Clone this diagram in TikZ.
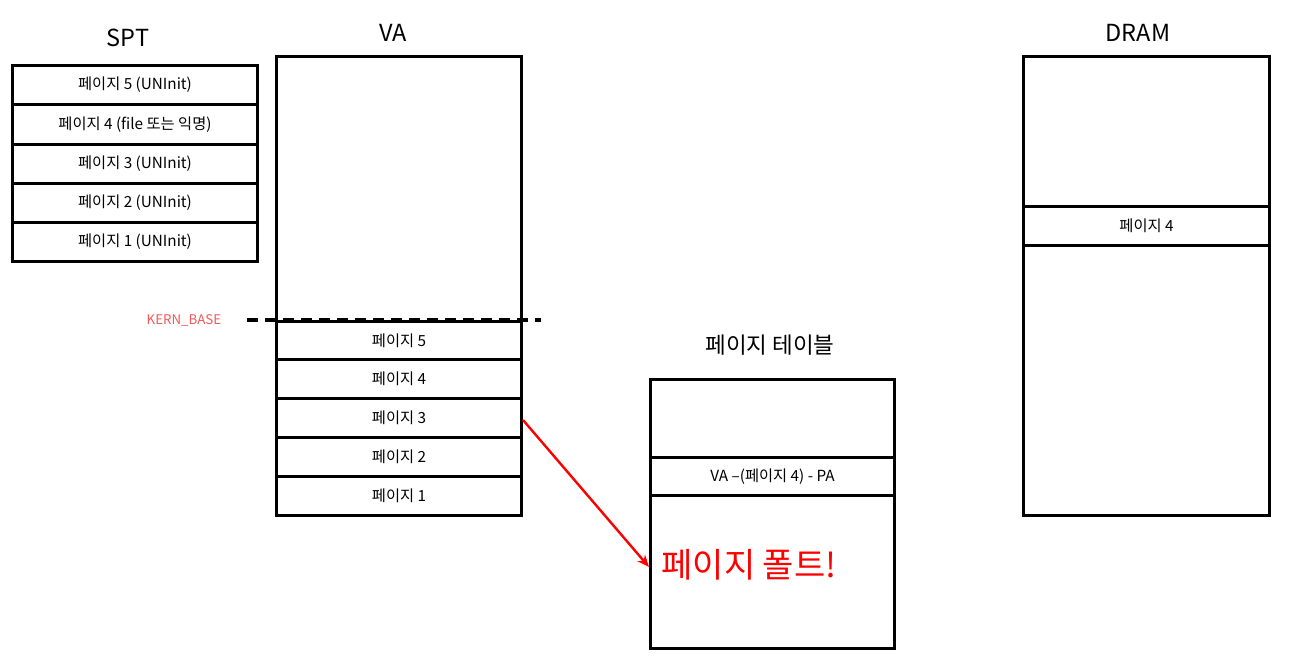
\documentclass[tikz,border=0pt]{standalone}
\usepackage{fontspec}
\setmainfont{Noto Sans CJK KR}
\usetikzlibrary{arrows.meta}
\definecolor{kern}{HTML}{F05A5A}
\begin{document}
\begin{tikzpicture}[x=1pt,y=-1pt,
  cell/.style={draw, line width=3pt, anchor=north west, inner sep=0pt, font=\fontsize{15.3}{17}\selectfont},
  title/.style={font=\fontsize{23.5}{26}\selectfont},
  ttl2/.style={font=\fontsize{22.5}{25}\selectfont}]
\useasboundingbox (0,0) rectangle (1296,666);
% SPT
\node[title] (spttitle) at (128,38) {SPT};
\node[cell, minimum width=245pt, minimum height=39pt] (s5) at (11,64) {페이지 5 (UNInit)};
\node[cell, minimum width=245pt, minimum height=40pt] (s4) at (11,103) {페이지 4 (file 또는 익명)};
\node[cell, minimum width=245pt, minimum height=39pt] (s3) at (11,143) {페이지 3 (UNInit)};
\node[cell, minimum width=245pt, minimum height=39pt] (s2) at (11,182) {페이지 2 (UNInit)};
\node[cell, minimum width=245pt, minimum height=39pt] (s1) at (11,221) {페이지 1 (UNInit)};
% VA
\node[title] (vatitle) at (393,33) {VA};
\node[cell, minimum width=245pt, minimum height=265pt] (vatop) at (275,55) {};
\node[cell, minimum width=245pt, minimum height=38pt] (v5) at (275,320) {페이지 5};
\node[cell, minimum width=245pt, minimum height=39pt] (v4) at (275,358) {페이지 4};
\node[cell, minimum width=245pt, minimum height=39pt] (v3) at (275,397) {페이지 3};
\node[cell, minimum width=245pt, minimum height=39pt] (v2) at (275,436) {페이지 2};
\node[cell, minimum width=245pt, minimum height=39pt] (v1) at (275,475) {페이지 1};
% KERN_BASE
\node[text=kern, font=\fontsize{13.3}{15}\selectfont] (kb) at (184,320) {KERN\_BASE};
\coordinate (kl) at (247,320);
\coordinate (kr) at (541,320);
\draw[line width=3.2pt, dash pattern=on 11pt off 7pt] (kl) -- (kr);
% Page table
\node[ttl2] (pttitle) at (770,345) {페이지 테이블};
\node[cell, minimum width=244pt, minimum height=78pt] (pt1) at (649,378) {};
\node[cell, minimum width=244pt, minimum height=38pt] (pt2) at (649,456) {VA –(페이지 4) - PA};
\node[cell, minimum width=244pt, minimum height=153pt] (pt3) at (649,494) {};
\node[text=red, font=\fontsize{34}{38}\selectfont, anchor=west] (fault) at (658,565) {페이지 폴트!};
% DRAM
\node[title] (dramtitle) at (1138,33) {DRAM};
\node[cell, minimum width=246pt, minimum height=150pt] (d1) at (1022,55) {};
\node[cell, minimum width=246pt, minimum height=39pt] (d2) at (1022,205) {페이지 4};
\node[cell, minimum width=246pt, minimum height=270pt] (d3) at (1022,244) {};
% arrow
\coordinate (aend) at (649,567);
\draw[red, line width=2.4pt, -{Stealth[length=12pt,width=10pt]}] (v3.east) ++(0,2) -- (aend);
\end{tikzpicture}
\end{document}
